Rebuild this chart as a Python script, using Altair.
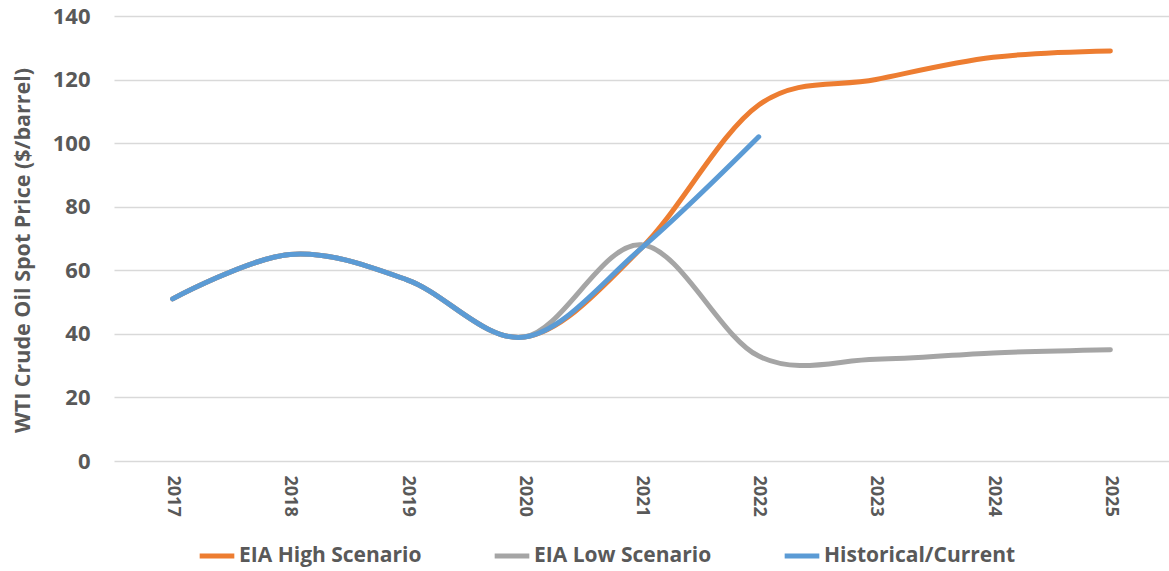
import altair as alt
import pandas as pd

years = ["2017", "2018", "2019", "2020", "2021", "2022", "2023", "2024", "2025"]

historical = [51, 65, 57, 39, 67, 102, None, None, None]
high_scenario = [51, 65, 57, 39, 67, 112, 120, 127, 129]
low_scenario = [51, 65, 57, 39, 68, 33, 32, 34, 35]

series_names = ["EIA High Scenario", "EIA Low Scenario", "Historical/Current"]
series_colors = ["#ED7D31", "#A5A5A5", "#5B9BD5"]

rows = []
for name, values in zip(series_names, [high_scenario, low_scenario, historical]):
    for year, v in zip(years, values):
        if v is not None:
            rows.append({"Year": year, "Price": v, "Series": name})
df = pd.DataFrame(rows)

FONT = "Open Sans"
TEXT = "#595959"

chart = (
    alt.Chart(df)
    .mark_line(interpolate="cardinal", strokeWidth=5, strokeCap="round")
    .encode(
        x=alt.X(
            "Year:O",
            sort=years,
            scale=alt.Scale(type="point", padding=0.5),
            axis=alt.Axis(
                title=None,
                labelAngle=90,
                labelFontSize=18,
                labelPadding=14,
                ticks=False,
                domain=False,
                grid=False,
            ),
        ),
        y=alt.Y(
            "Price:Q",
            scale=alt.Scale(domain=[0, 140], nice=False),
            axis=alt.Axis(
                title="WTI Crude Oil Spot Price ($/barrel)",
                values=[0, 20, 40, 60, 80, 100, 120, 140],
                labelFontSize=22,
                labelPadding=24,
                titleFontSize=21.5,
                titlePadding=18,
                titleY=234,
                ticks=False,
                domain=False,
                gridColor="#D9D9D9",
                gridWidth=1.5,
            ),
        ),
        color=alt.Color(
            "Series:N",
            scale=alt.Scale(domain=series_names, range=series_colors),
            legend=alt.Legend(
                title=None,
                orient="none",
                direction="horizontal",
                legendX=83,
                legendY=520,
                symbolType="stroke",
                symbolSize=1200,
                symbolStrokeWidth=5,
                labelFontSize=21,
                labelOffset=2,
                labelLimit=400,
                columnPadding=62,
            ),
        ),
    )
    .properties(
        width=1055,
        height=445,
        autosize=alt.AutoSizeParams(type="none"),
        padding={"left": 114, "top": 16, "right": 0, "bottom": 110},
    )
    .configure_view(stroke=None)
    .configure_axis(
        labelFont=FONT,
        titleFont=FONT,
        labelColor=TEXT,
        titleColor=TEXT,
        labelFontWeight="bold",
        titleFontWeight="bold",
    )
    .configure_legend(
        labelFont=FONT,
        labelColor=TEXT,
        labelFontWeight="bold",
    )
)

chart.save("out.html", embed_options={"renderer": "svg", "actions": False})
